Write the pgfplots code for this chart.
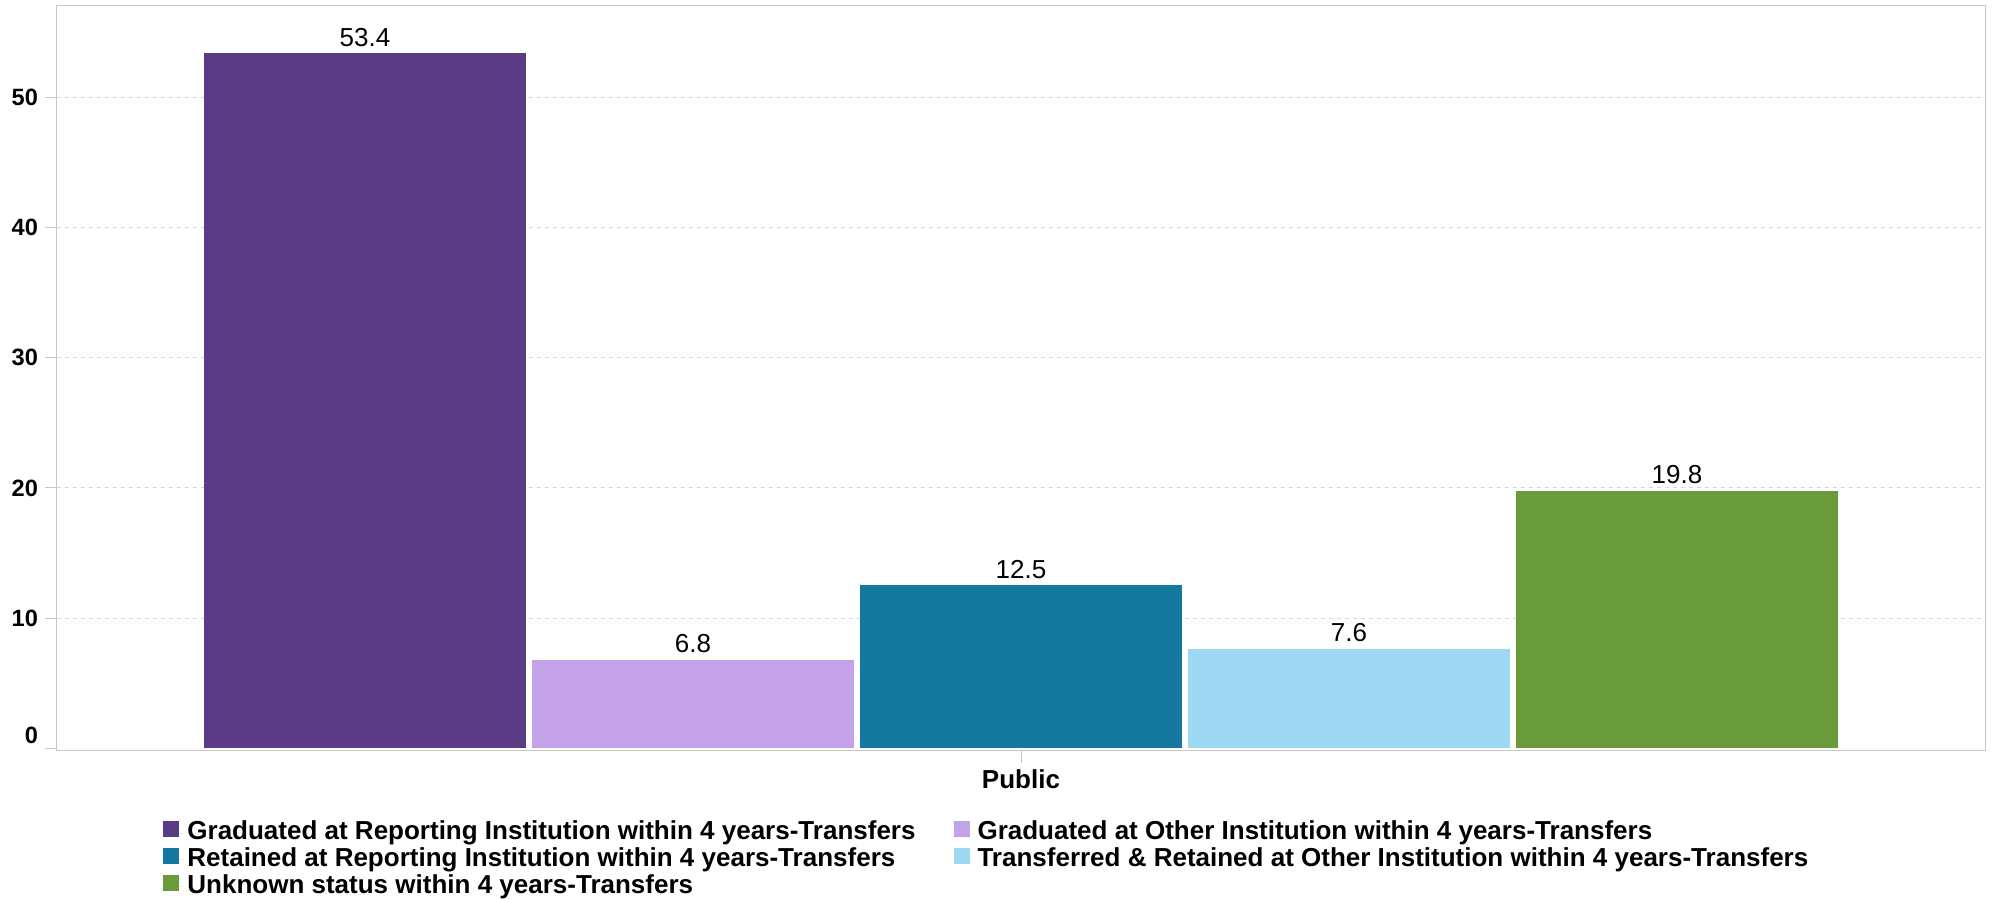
\documentclass[border=0pt]{standalone}
\usepackage{pgfplots}
\pgfplotsset{compat=1.18}
\usepackage{fontspec}
\setmainfont{Liberation Sans}

\definecolor{gradrep}{HTML}{5C3B85}
\definecolor{gradoth}{HTML}{C3A2E9}
\definecolor{retrep}{HTML}{15799F}
\definecolor{transret}{HTML}{9ED8F3}
\definecolor{unknown}{HTML}{6A9B3B}
\definecolor{framegray}{HTML}{C8C8C8}
\definecolor{gridgray}{HTML}{D6D6D6}

\begin{document}
\begin{tikzpicture}
\useasboundingbox (0,0) rectangle (996.5pt,449.5pt);
\begin{axis}[
    at={(28.5pt,74.15pt)}, anchor=south west,
    scale only axis,
    width=964pt, height=372.35pt,
    xmin=-1, xmax=1,
    ymin=-0.2, ymax=57.05,
    ybar=3pt, bar width=161pt,
    axis line style={draw=framegray, line width=0.5pt},
    tick style={draw=framegray, line width=0.5pt},
    tick align=outside, tick pos=left,
    major tick length=6pt,
    xtick={0}, xticklabels={Public},
    xticklabel style={font=\bfseries\fontsize{13}{14}\selectfont},
    ytick={10,20,30,40,50},
    extra y ticks={0},
    extra y tick style={grid=none, yticklabel style={yshift=6.5pt}},
    yticklabel style={font=\bfseries\fontsize{11.8}{12}\selectfont},
    /pgf/number format/assume math mode=true,
    ymajorgrids=true,
    major grid style={draw=gridgray, line width=0.5pt, dash pattern=on 2pt off 2pt},
    nodes near coords={\pgfmathprintnumber[fixed,fixed zerofill,precision=1]{\pgfplotspointmeta}},
    every node near coord/.append style={font=\fontsize{13}{13}\selectfont, black},
    legend columns=2,
    legend cell align=left,
    legend style={at={(axis description cs:0.055,0)}, anchor=north west,
        yshift=-35pt, draw=none, fill=none, inner sep=0pt, row sep=1.45pt,
        font=\bfseries\fontsize{13}{14}\selectfont,
        nodes={inner ysep=0pt, text height=9.3pt, text depth=2.6pt},
        /tikz/every even column/.append style={column sep=17pt}},
    legend image code/.code={\fill[#1] (0pt,-2pt) rectangle (8pt,6pt);
        \path (0pt,0pt) -- (10pt,0pt);},
]
\addplot[fill=gradrep, draw=none] coordinates {(0,53.4)};
\addlegendentry{Graduated at Reporting Institution within 4 years-Transfers}
\addplot[fill=gradoth, draw=none] coordinates {(0,6.8)};
\addlegendentry{Graduated at Other Institution within 4 years-Transfers}
\addplot[fill=retrep, draw=none] coordinates {(0,12.5)};
\addlegendentry{Retained at Reporting Institution within 4 years-Transfers}
\addplot[fill=transret, draw=none] coordinates {(0,7.6)};
\addlegendentry{Transferred \& Retained at Other Institution within 4 years-Transfers}
\addplot[fill=unknown, draw=none] coordinates {(0,19.8)};
\addlegendentry{Unknown status within 4 years-Transfers}
\end{axis}
\end{tikzpicture}
\end{document}
